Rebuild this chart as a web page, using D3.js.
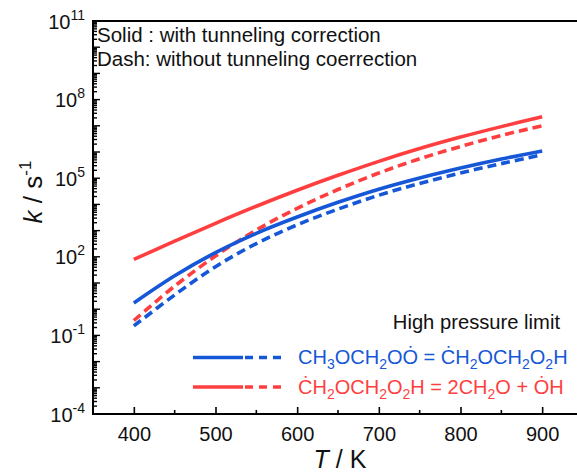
<!DOCTYPE html>
<html>
<head>
<meta charset="utf-8">
<script src="https://cdn.jsdelivr.net/npm/d3@7"></script>
<style>
  html, body { margin: 0; padding: 0; background: #ffffff; }
  svg { display: block; }
  text { font-family: "Liberation Sans", Arial, sans-serif; fill: #111; }
</style>
</head>
<body>
<svg id="chart" width="577" height="474"></svg>
<script>
// Temperatures (K)
const temperatures = [400, 450, 500, 550, 600, 650, 700, 750, 800, 850, 900];

// High-pressure-limit rate constants k (s^-1)
// CH3OCH2OO -> CH2OCH2O2H
const r1Tunneling   = [1.74, 19, 145, 790, 3300, 1.2e4, 3.8e4, 1.02e5, 2.45e5, 5.4e5, 1.1e6];
const r1NoTunneling = [0.23, 3.5, 42, 320, 1660, 6600, 2.24e4, 6.3e4, 1.58e5, 3.6e5, 7.8e5];
// CH2OCH2O2H -> 2CH2O + OH
const r2Tunneling   = [79, 398, 1900, 8500, 3.47e4, 1.29e5, 4.4e5, 1.35e6, 3.7e6, 9.3e6, 2.2e7];
const r2NoTunneling = [0.37, 7.6, 107, 1050, 7100, 3.7e4, 1.58e5, 5.5e5, 1.62e6, 4.3e6, 1.0e7];

const xTicks = [400, 500, 600, 700, 800, 900];
const xMinorTicks = [450, 550, 650, 750, 850, 950];
const yLabelExponents = [-4, -1, 2, 5, 8, 11];

const blue = "#1557d6";
const red = "#ff3f3f";

const svg = d3.select("#chart");
const plotLeft = 93, plotTop = 21, plotBottom = 414, plotRight = 583;

const x = d3.scaleLinear().domain([350, 950]).range([plotLeft, plotRight]);
const y = d3.scaleLog().domain([1e-4, 1e11]).range([plotBottom, plotTop]);

// Plot frame
svg.append("rect")
  .attr("x", plotLeft).attr("y", plotTop)
  .attr("width", plotRight - plotLeft).attr("height", plotBottom - plotTop)
  .attr("fill", "none").attr("stroke", "#000").attr("stroke-width", 2);

// X axis: inward ticks
const xAxis = svg.append("g").attr("transform", `translate(0,${plotBottom})`)
  .call(d3.axisBottom(x).tickValues(xTicks).tickSizeInner(-7).tickSizeOuter(0).tickPadding(13)
    .tickFormat(d3.format("d")));
xAxis.select(".domain").remove();
xAxis.selectAll(".tick line").attr("stroke", "#000").attr("stroke-width", 1.6);
xAxis.selectAll(".tick text")
  .attr("font-size", 20).attr("fill", "#111")
  .style("font-family", "'Liberation Sans', Arial, sans-serif");
svg.append("g").selectAll("line").data(xMinorTicks).join("line")
  .attr("x1", d => x(d)).attr("x2", d => x(d))
  .attr("y1", plotBottom).attr("y2", plotBottom - 4)
  .attr("stroke", "#000").attr("stroke-width", 1.6);

// Y axis: decade ticks and 2..9 minor ticks, all inward
const yTickVals = [];
for (let e = -4; e <= 10; e++) {
  for (let m = 1; m <= 9; m++) yTickVals.push({ v: m * Math.pow(10, e), major: m === 1 });
}
yTickVals.push({ v: 1e11, major: true });
svg.append("g").selectAll("line").data(yTickVals).join("line")
  .attr("x1", plotLeft).attr("x2", d => plotLeft + (d.major ? 7 : 4))
  .attr("y1", d => y(d.v)).attr("y2", d => y(d.v))
  .attr("stroke", "#000").attr("stroke-width", 1.4);

const yLab = svg.append("g").selectAll("text").data(yLabelExponents).join("text")
  .attr("x", 85).attr("y", d => y(Math.pow(10, d)) + 7.5)
  .attr("text-anchor", "end").attr("font-size", 20);
yLab.append("tspan").text("10");
yLab.append("tspan").attr("dy", -9).attr("font-size", 14).text(d => d < 0 ? "-" + Math.abs(d) : d);

// Axis titles
const yTitle = svg.append("text")
  .attr("transform", "translate(42,192) rotate(-90)")
  .attr("text-anchor", "middle").attr("font-size", 26);
yTitle.append("tspan").attr("font-style", "italic").text("k");
yTitle.append("tspan").text(" / s");
yTitle.append("tspan").attr("dy", -11).attr("font-size", 17).text("-1");

const xTitle = svg.append("text")
  .attr("x", 340).attr("y", 468)
  .attr("text-anchor", "middle").attr("font-size", 25);
xTitle.append("tspan").attr("font-style", "italic").text("T");
xTitle.append("tspan").text(" / K");

// Curves
const line = d3.line()
  .x(d => x(d[0])).y(d => y(d[1]))
  .curve(d3.curveCatmullRom.alpha(0.5));

const series = [
  { values: r1NoTunneling, color: blue, dash: "9,5" },
  { values: r2NoTunneling, color: red, dash: "9,5" },
  { values: r1Tunneling, color: blue, dash: null },
  { values: r2Tunneling, color: red, dash: null }
];
svg.append("g").selectAll("path").data(series).join("path")
  .attr("d", s => line(temperatures.map((t, i) => [t, s.values[i]])))
  .attr("fill", "none")
  .attr("stroke", s => s.color)
  .attr("stroke-width", 3.6)
  .attr("stroke-dasharray", s => s.dash);

// Notes
svg.append("text").attr("x", 97).attr("y", 42).attr("font-size", 20.5)
  .text("Solid : with tunneling correction");
svg.append("text").attr("x", 97).attr("y", 66).attr("font-size", 20.5)
  .text("Dash: without tunneling coerrection");

// Legend
svg.append("text").attr("x", 560).attr("y", 329).attr("text-anchor", "end")
  .attr("font-size", 20.2).text("High pressure limit");

const legendRows = [
  { color: blue, y: 357.5, parts: [["CH", 0], ["3", 1], ["OCH", 0], ["2", 1], ["OȮ = ĊH", 0], ["2", 1], ["OCH", 0], ["2", 1], ["O", 0], ["2", 1], ["H", 0]] },
  { color: red, y: 387, parts: [["ĊH", 0], ["2", 1], ["OCH", 0], ["2", 1], ["O", 0], ["2", 1], ["H = 2CH", 0], ["2", 1], ["O + ȮH", 0]] }
];
legendRows.forEach(row => {
  svg.append("line").attr("x1", 193).attr("x2", 243).attr("y1", row.y).attr("y2", row.y)
    .attr("stroke", row.color).attr("stroke-width", 3.6);
  svg.append("line").attr("x1", 245).attr("x2", 287).attr("y1", row.y).attr("y2", row.y)
    .attr("stroke", row.color).attr("stroke-width", 3.6).attr("stroke-dasharray", "8,6");
  const t = svg.append("text").attr("x", 298).attr("y", row.y + 6.5)
    .attr("font-size", 20).style("fill", row.color);
  let sub = false;
  row.parts.forEach(([s, isSub]) => {
    const ts = t.append("tspan").text(s).style("fill", row.color);
    if (isSub && !sub) { ts.attr("dy", 5).attr("font-size", 14); sub = true; }
    else if (isSub) { ts.attr("font-size", 14); }
    else if (!isSub && sub) { ts.attr("dy", -5); sub = false; }
  });
});
</script>
</body>
</html>
